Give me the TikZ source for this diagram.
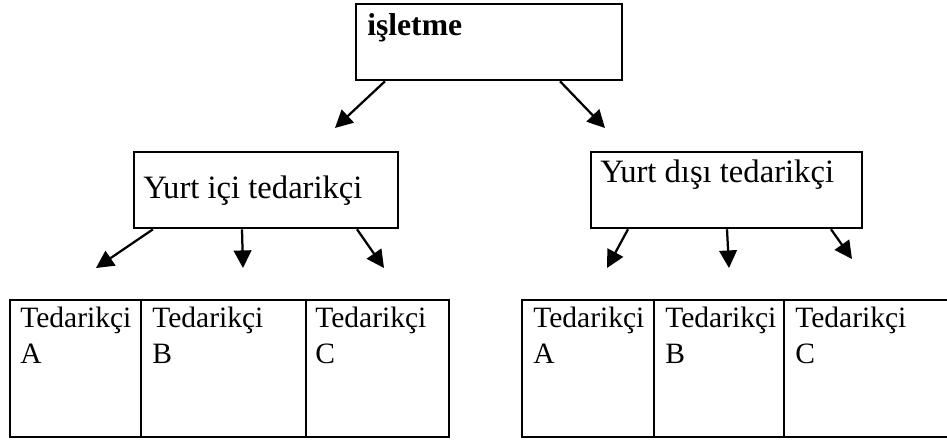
\documentclass[tikz,border=0pt]{standalone}
\usepackage{fontspec}
\setmainfont{Liberation Serif}
\usetikzlibrary{arrows.meta,fit}

\tikzset{
  box/.style={draw, line width=1.8pt, inner sep=0pt},
  txt/.style={font=\fontsize{21}{25.5}\selectfont, inner sep=0pt, anchor=base west, align=left},
  bigtxt/.style={txt, font=\fontsize{23.2}{28}\selectfont},
  link/.style={line width=1.6pt, -{Triangle[length=12.5pt,width=12.5pt]}}
}

\begin{document}
\begin{tikzpicture}[x=0.025cm, y=-0.025cm]
    \useasboundingbox (0,0) rectangle (947,443);
    \clip (0,0) rectangle (947,443);

    % main boxes
    \node[box, fit={(356,4) (622,80)}] (isl) {};
    \node[box, fit={(134,152) (398,228)}] (ici) {};
    \node[box, fit={(591,152) (862,228)}] (disi) {};

    % supplier cells
    \node[box, fit={(10,300) (141,437)}] (iA) {};
    \node[box, fit={(141,300) (306,437)}] (iB) {};
    \node[box, fit={(306,300) (449,437)}] (iC) {};
    \node[box, fit={(522,300) (654,437)}] (dA) {};
    \node[box, fit={(654,300) (784,437)}] (dB) {};
    \node[box, fit={(784,300) (960,437)}] (dC) {};

    % texts
    \node[bigtxt, font=\fontsize{22.5}{27}\selectfont\bfseries] (islT) at (367,35) {işletme};
    \node[bigtxt] (iciT) at (143,198) {Yurt içi tedarikçi};
    \node[bigtxt] (disiT) at (600,182) {Yurt dışı tedarikçi};
    \node[txt] (iAT) at (20,363) {Tedarikçi\\A};
    \node[txt] (iBT) at (152,363) {Tedarikçi\\B};
    \node[txt] (iCT) at (315,363) {Tedarikçi\\C};
    \node[txt] (dAT) at (533,363) {Tedarikçi\\A};
    \node[txt] (dBT) at (665,363) {Tedarikçi\\B};
    \node[txt] (dCT) at (795,363) {Tedarikçi\\C};

    % arrow tips
    \coordinate (t1) at (335,128);
    \coordinate (t2) at (605,128);
    \coordinate (a1) at (96,268);
    \coordinate (a2) at (243,268);
    \coordinate (a3) at (384,268);
    \coordinate (b1) at (607,268);
    \coordinate (b2) at (729,268);
    \coordinate (b3) at (852,259);

    \draw[link] (isl.south -| 385,0) -- (t1);
    \draw[link] (isl.south -| 560,0) -- (t2);

    \draw[link] (ici.south -| 153,0) -- (a1);
    \draw[link] (ici.south -| 242,0) -- (a2);
    \draw[link] (ici.south -| 357,0) -- (a3);

    \draw[link] (disi.south -| 628,0) -- (b1);
    \draw[link] (disi.south -| 727,0) -- (b2);
    \draw[link] (disi.south -| 831,0) -- (b3);

  \end{tikzpicture}
\end{document}
